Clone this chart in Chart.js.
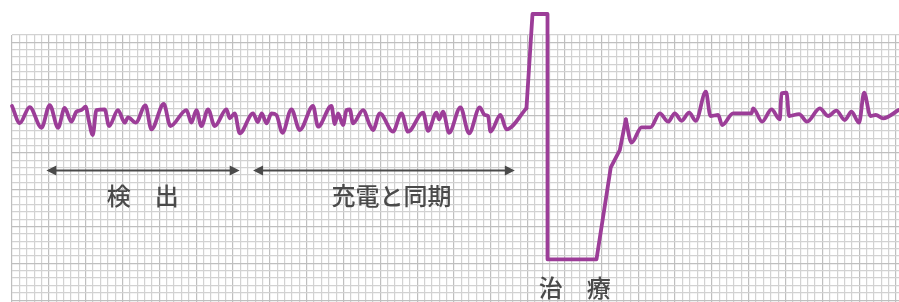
<!DOCTYPE html>
<html lang="ja">
<head>
<meta charset="utf-8">
<title>ICD trace</title>
<script src="https://cdn.jsdelivr.net/npm/chart.js@4/dist/chart.umd.min.js"></script>
<style>
  html, body { margin: 0; padding: 0; background: #fff; }
  #wrap { width: 899px; height: 302px; position: relative; }
</style>
</head>
<body>
<div id="wrap"><canvas id="ecgChart"></canvas></div>
<script>
// Trace in small grid squares: x from left edge of grid, y from baseline (up = positive)
const traceX = [
  0, 1.05, 2.4, 4.0, 5.12, 6.25, 7.15, 8.06, 8.74, 9.42, 10.0, 10.41, 10.96, 11.46, 12.58,
  13.17, 14.39, 15.3, 15.75, 16.8, 18.11, 18.92, 20.6, 21.5, 23.68, 24.35, 25.03, 25.71,
  26.61, 27.52, 29.11, 29.56, 30.23, 30.91, 32.72, 33.36, 33.9, 34.54, 35.22, 35.89, 36.71,
  37.93, 39.06, 40.86, 41.54, 43.36, 43.81, 44.26, 44.94, 45.4, 45.85, 46.29, 47.65, 48.56,
  49.01, 49.92, 51.72, 52.86, 53.76, 55.8, 56.48, 57.62, 57.97, 58.51, 59.33, 60.87, 62.04,
  63.49, 64.17, 64.62, 64.95, 66.3, 67.12, 69.83, 70.65, 72.69, 72.69, 79.34, 81.28, 82.5,
  83.32, 84.09, 85.45, 86.67, 87.93, 89.06, 89.97, 90.88, 91.91, 92.82, 94.18, 94.81, 95.85,
  96.39, 97.88, 100.38, 100.6, 101.82, 103.09, 104.22, 104.45, 105.13, 105.48, 106.84,
  107.92, 109.65, 110.77, 111.91, 113.04, 113.95, 114.98, 115.66, 116.53, 117.25, 118.24, 120.37
];
const traceY = [
  1.36, -0.95, 1.22, -1.59, 1.49, -1.59, 1.09, -0.77, 0.58, 0.81, 1.26, -0.54, -2.58, 0.81, 0.91,
  -1.36, 0.81, -0.91, -0.18, -0.91, 1.45, -1.81, 1.63, -1.36, 0.81, -0.91, 0.81, -1.36,
  0.91, -1.36, 0.91, -0.31, 0.37, -2.35, 0.37, -0.81, 0.37, -0.99, 0.37, 0.14, -2.27,
  0.91, -1.9, 1.36, -1.45, 1.36, -1.09, 0.37, -1.22, 0.81, 0.91, -0.99, 0.81, -1.22,
  -1.9, 0.37, -2.13, 0.37, -2.13, 0.45, -2.0, 0.45, -0.45, 0.58, -2.27, 1.18, -2.35,
  1.18, 0.14, 0, -2.13, 0.14, -1.81, 1.05, 13.85, 13.85, -19.45, -19.45, -6.96, -4.62,
  -0.45, -3.62, -1.53, -1.53, 0.37, -0.77, 0.37, -0.64, 0.45, -0.64, 3.3, 0, 0.14,
  -1.22, 0.37, 0.37, 1.05, -0.77, 0.91, -0.45, 3.08, 3.16, 0, 0.27,
  -0.77, 1.05, 0, 0.72, -0.54, 0.58, -0.91, 3.16, 0, 0.14, -0.31, 0.81
];

// Index ranges of the three phases: rhythm before shock, shock, recovery
const shockStart = 73;
const shockEnd = 80;

// Phase labels
const phaseLabels = ['検\u3000出', '充電と同期', '治\u3000療'];
const phaseLabelX = [17.74, 51.5, 76.4];
const phaseLabelY = [-10.85, -10.85, -23.35];

// Double-headed arrows: start x, end x, y
const arrowStartX = [4.67, 32.72];
const arrowEndX = [30.91, 68.25];
const arrowY = [-7.4, -7.4];

const X_MIN = 0, X_MAX = 120.4;
const Y_MIN = -25.25, Y_MAX = 11;

const traceColor = '#9c3d98';
const inkColor = '#4a4a4a';

function intTicks(lo, hi) {
    const out = [];
    for (let v = Math.ceil(lo); v <= Math.floor(hi); v++) out.push({ value: v });
    return out;
}

function points(from, to) {
    const pts = [];
    for (let i = from; i <= to; i++) pts.push({ x: traceX[i], y: traceY[i] });
    return pts;
}

function traceSet(data, smooth) {
    return {
        data: data,
        borderColor: traceColor,
        borderWidth: 3.8,
        pointRadius: 0,
        fill: false,
        clip: false,
        borderJoinStyle: 'round',
        borderCapStyle: 'round',
        cubicInterpolationMode: smooth ? 'monotone' : 'default',
        tension: 0
    };
}

const annotationPlugin = {
    id: 'phaseAnnotations',
    afterDatasetsDraw(chart) {
        const { ctx, scales: { x, y } } = chart;
        ctx.save();
        ctx.strokeStyle = inkColor;
        ctx.fillStyle = inkColor;
        ctx.lineWidth = 2;
        const head = 10, half = 5;
        arrowStartX.forEach((sx, i) => {
            const x0 = x.getPixelForValue(sx);
            const x1 = x.getPixelForValue(arrowEndX[i]);
            const py = y.getPixelForValue(arrowY[i]);
            ctx.beginPath();
            ctx.moveTo(x0 + head - 1, py);
            ctx.lineTo(x1 - head + 1, py);
            ctx.stroke();
            ctx.beginPath();
            ctx.moveTo(x0, py);
            ctx.lineTo(x0 + head, py - half);
            ctx.lineTo(x0 + head, py + half);
            ctx.closePath();
            ctx.fill();
            ctx.beginPath();
            ctx.moveTo(x1, py);
            ctx.lineTo(x1 - head, py - half);
            ctx.lineTo(x1 - head, py + half);
            ctx.closePath();
            ctx.fill();
        });
        ctx.font = '500 24px "Noto Sans CJK JP", "Noto Sans", sans-serif';
        ctx.textAlign = 'center';
        ctx.textBaseline = 'middle';
        phaseLabels.forEach((t, i) => {
            ctx.fillText(t, x.getPixelForValue(phaseLabelX[i]), y.getPixelForValue(phaseLabelY[i]));
        });
        ctx.restore();
    }
};

const gridColor = (ctx) => (ctx.tick && Math.round(ctx.tick.value) % 5 === 0) ? '#bfbfbf' : '#d2d2d2';

new Chart(document.getElementById('ecgChart'), {
    type: 'line',
    data: {
        datasets: [
            traceSet(points(0, shockStart), true),
            traceSet(points(shockStart, shockEnd), false),
            traceSet(points(shockEnd, traceX.length - 1), true)
        ]
    },
    options: {
        responsive: true,
        maintainAspectRatio: false,
        animation: false,
        layout: { padding: { left: 12, top: 35, right: 0, bottom: 0 } },
        plugins: {
            legend: { display: false },
            tooltip: { enabled: false }
        },
        scales: {
            x: {
                type: 'linear',
                min: X_MIN,
                max: X_MAX,
                afterBuildTicks: (axis) => { axis.ticks = intTicks(X_MIN, X_MAX); },
                ticks: { display: false },
                border: { display: false },
                grid: { color: gridColor, lineWidth: 1.2, drawTicks: false }
            },
            y: {
                type: 'linear',
                min: Y_MIN,
                max: Y_MAX,
                afterBuildTicks: (axis) => { axis.ticks = intTicks(Y_MIN, Y_MAX); },
                ticks: { display: false },
                border: { display: false },
                grid: { color: gridColor, lineWidth: 1.2, drawTicks: false }
            }
        }
    },
    plugins: [annotationPlugin]
});
</script>
</body>
</html>
